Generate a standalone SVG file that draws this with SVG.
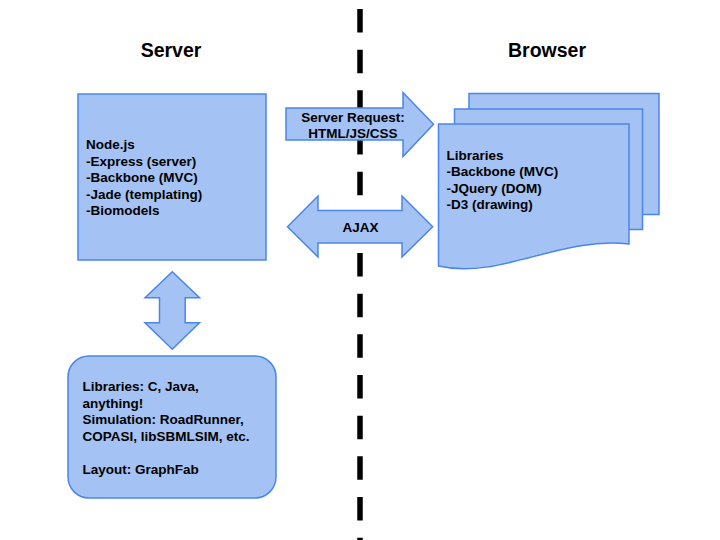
<svg xmlns="http://www.w3.org/2000/svg" width="720" height="540" viewBox="0 0 720 540">
<style>
.shape{fill:#a4c2f4;stroke:#4a86e8;stroke-width:1.5;stroke-linejoin:miter}
.t{font-family:"Liberation Sans",Arial,sans-serif;font-weight:bold;font-size:13.5px;fill:#000}
.title{font-family:"Liberation Sans",Arial,sans-serif;font-weight:bold;font-size:19.5px;fill:#000}
</style>
<rect width="720" height="540" fill="#fff"/>
<g id="divider">
<line x1="360" y1="9" x2="360" y2="540" stroke="#000" stroke-width="5.5" stroke-dasharray="23.5 17.17"/>
</g>
<g id="titles">
<text class="title" x="171" y="57" text-anchor="middle">Server</text>
<text class="title" x="547" y="57" text-anchor="middle">Browser</text>
</g>
<g id="server">
<rect class="shape" x="78" y="94" width="188" height="166"/>
<text class="t" x="86" y="149">Node.js</text>
<text class="t" x="86" y="165.5">-Express (server)</text>
<text class="t" x="86" y="182">-Backbone (MVC)</text>
<text class="t" x="86" y="198.5">-Jade (templating)</text>
<text class="t" x="86" y="215">-Biomodels</text>
</g>
<g id="backend">
<rect class="shape" x="68" y="356" width="208" height="142" rx="21" ry="21"/>
<text class="t" x="82.5" y="391">Libraries: C, Java,</text>
<text class="t" x="82.5" y="407.6">anything!</text>
<text class="t" x="82.5" y="424.2">Simulation: RoadRunner,</text>
<text class="t" x="82.5" y="440.8">COPASI, libSBMLSIM, etc.</text>
<text class="t" x="82.5" y="474">Layout: GraphFab</text>
</g>
<g id="browser">
<rect class="shape" x="469" y="93.5" width="190" height="121"/>
<rect class="shape" x="454.5" y="109" width="188" height="120.5"/>
<path class="shape" d="M438.5,124 H629 V244 C560,236 500,280 438.5,266 Z"/>
<text class="t" x="446.5" y="159.5">Libraries</text>
<text class="t" x="446.5" y="176">-Backbone (MVC)</text>
<text class="t" x="446.5" y="192.5">-JQuery (DOM)</text>
<text class="t" x="446.5" y="209">-D3 (drawing)</text>
</g>
<g id="connectors">
<g id="server-request">
<path class="shape" d="M286,108 H403 V92.5 L433.5,124.2 L403,156.5 V140 H286 Z"/>
<text class="t" x="353" y="121.8" text-anchor="middle">Server Request:</text>
<text class="t" x="353" y="137.8" text-anchor="middle">HTML/JS/CSS</text>
</g>
<g id="ajax">
<path class="shape" d="M287.5,226.7 L318,196 V210.5 H402 V196 L432.7,226.7 L402,257 V243 H318 V257 Z"/>
<text class="t" x="360.5" y="232.3" text-anchor="middle">AJAX</text>
</g>
<g id="server-backend">
<path class="shape" d="M172.3,271.7 L199.5,297.7 H185.2 V322.7 H199.5 L172.3,349.3 L145,322.7 H159.5 V297.7 H145 Z"/>
</g>
</g>
</svg>
